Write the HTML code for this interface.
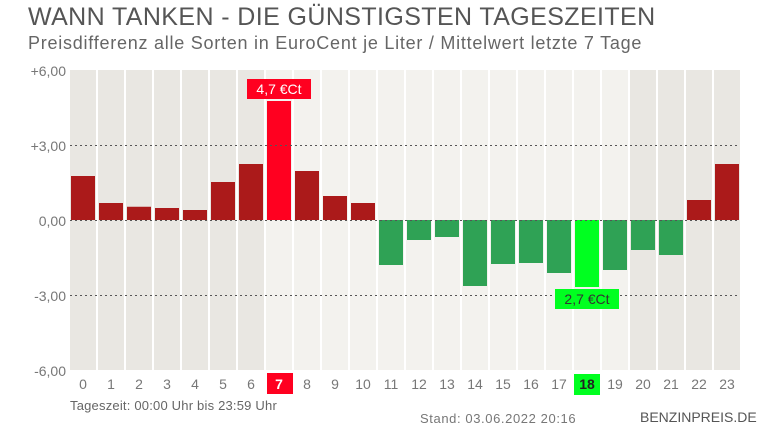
<!DOCTYPE html>
<html><head><meta charset="utf-8"><style>
body{margin:0;width:780px;height:438px;background:#fff;font-family:"Liberation Sans",sans-serif;position:relative;overflow:hidden}
.t{position:absolute;white-space:nowrap}
</style></head><body>
<div class="t" style="left:28px;top:3px;font-size:25px;color:#555;letter-spacing:0.4px">WANN TANKEN - DIE GÜNSTIGSTEN TAGESZEITEN</div>
<div class="t" style="left:28px;top:33px;font-size:18px;color:#666;letter-spacing:0.75px">Preisdifferenz alle Sorten in EuroCent je Liter / Mittelwert letzte 7 Tage</div>
<svg width="780" height="438" style="position:absolute;left:0;top:0">
<g id="bg"></g>
<g font-family="Liberation Sans" font-size="14" fill="#777" text-anchor="end">
<text x="66" y="76">+6,00</text><text x="66" y="151">+3,00</text><text x="66" y="226">0,00</text><text x="66" y="301">-3,00</text><text x="66" y="376">-6,00</text>
</g>
<g id="bars"></g>
<g stroke="#555" stroke-dasharray="2,3" stroke-width="1">
<line x1="70" x2="740" y1="145.5" y2="145.5"/><line x1="70" x2="740" y1="220.5" y2="220.5"/><line x1="70" x2="740" y1="295.5" y2="295.5"/>
</g>
<rect x="247" y="79" width="64" height="20" fill="#ff0020"/>
<text x="279" y="94" fill="#fff" font-size="14" text-anchor="middle" font-family="Liberation Sans">4,7 €Ct</text>
<rect x="555" y="289" width="64" height="20" fill="#00ff20"/>
<text x="587" y="304" fill="#333" font-size="14" text-anchor="middle" font-family="Liberation Sans">2,7 €Ct</text>
<rect x="267" y="373" width="26" height="21" fill="#ff0020"/>
<rect x="574" y="374" width="26" height="21" fill="#00ff20"/>
<g id="xl" font-family="Liberation Sans" font-size="14" fill="#777" text-anchor="middle"></g>
</svg>
<div class="t" style="left:70px;top:398px;font-size:13px;color:#666;letter-spacing:0.2px">Tageszeit: 00:00 Uhr bis 23:59 Uhr</div>
<div class="t" style="left:420px;top:411px;font-size:13px;color:#777;letter-spacing:0.6px">Stand: 03.06.2022 20:16</div>
<div class="t" style="left:640px;top:409px;font-size:14px;color:#555">BENZINPREIS.DE</div>
<script>
var v=[1.76,0.68,0.53,0.48,0.4,1.52,2.24,4.76,1.96,0.96,0.68,-1.8,-0.8,-0.68,-2.64,-1.76,-1.72,-2.12,-2.68,-2.0,-1.2,-1.4,0.8,2.24];
var ns="http://www.w3.org/2000/svg",bg=document.getElementById('bg'),bars=document.getElementById('bars'),xl=document.getElementById('xl');
function r(p,x,y,w,h,f){var e=document.createElementNS(ns,'rect');e.setAttribute('x',x);e.setAttribute('y',y);e.setAttribute('width',w);e.setAttribute('height',h);e.setAttribute('fill',f);p.appendChild(e);}
for(var i=0;i<24;i++){var x=70+i*28;
r(bg,x,70,26,300,(i<7||i>19)?'#e9e7e2':'#f3f2ee');
var h=Math.abs(v[i])*25,c;
if(i==7)c='#ff0020';else if(i==18)c='#00ff20';else c=v[i]>0?'#ab1a1a':'#2fa255';
r(bars,x+1,v[i]>0?220-h:220,24,h,c);
var t=document.createElementNS(ns,'text');t.setAttribute('x',x+13);t.setAttribute('y',389);t.textContent=i;
if(i==7){t.setAttribute('fill','#fff');t.setAttribute('font-weight','bold');}
if(i==18){t.setAttribute('fill','#222');t.setAttribute('font-weight','bold');}
xl.appendChild(t);}
</script>
</body></html>
